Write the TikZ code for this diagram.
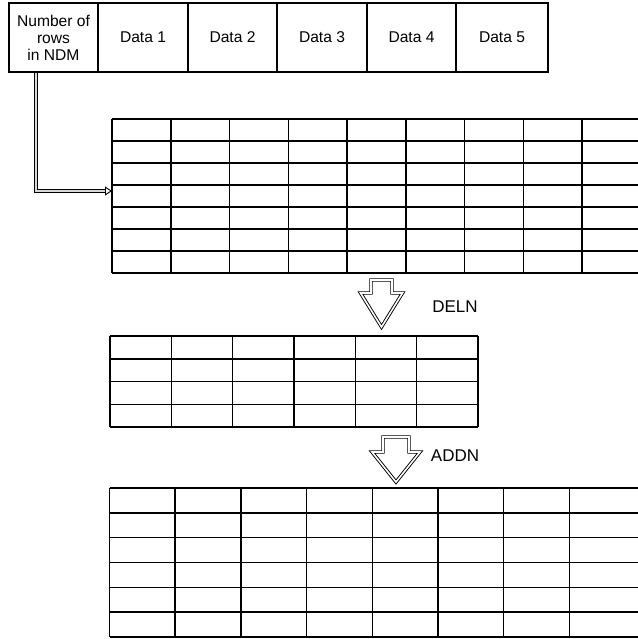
\documentclass[tikz,border=0pt]{standalone}
\usepackage{fontspec}
\setmainfont{Liberation Sans}
\usetikzlibrary{arrows.meta}
\begin{document}
\begin{tikzpicture}[x=1pt,y=-1pt,
  cell/.style={draw, line width=1.4pt, minimum height=69pt, inner sep=0pt, align=center,
               font=\fontsize{15.6}{17}\selectfont},
  gridline/.style={line width=1.5pt, line cap=square},
  bigarrow/.style={draw, line width=0.9pt, double=white, double distance=1.6pt, line join=miter},
  lbl/.style={font=\fontsize{17}{20}\selectfont, inner sep=0pt},
  dbl/.style={line width=0.9pt, double=black!15, double distance=2pt,
              -{Triangle[open, length=7pt, width=9pt]}}]
\useasboundingbox (0,0) rectangle (637,639);

% top record
\node[cell, minimum width=89pt] (c0) at (53.5,37.5) {Number of\\rows\\in NDM};
\node[cell, minimum width=90pt] (c1) at (143,37.5) {Data 1};
\node[cell, minimum width=89pt] (c2) at (232.5,37.5) {Data 2};
\node[cell, minimum width=90pt] (c3) at (322,37.5) {Data 3};
\node[cell, minimum width=89pt] (c4) at (411.5,37.5) {Data 4};
\node[cell, minimum width=92pt] (c5) at (502,37.5) {Data 5};

% table 1 (7 rows, runs off the right edge)
\foreach \j in {0,...,7} \draw[gridline] (112,{119+22*\j}) -- (640,{119+22*\j});
\foreach \i in {0,...,8} \draw[gridline] ({112+58.75*\i},119) -- ({112+58.75*\i},273);
\coordinate (t1) at (112,191);

% connector
\draw[dbl] ([xshift=-17.5pt]c0.south) |- (t1);

% DELN arrow
\draw[bigarrow, shift={(381.5,280)}] (-10.5,0) -- (10.5,0) -- (10.5,13) -- (21,13) -- (0,47)
      -- (-21,13) -- (-10.5,13) -- cycle;
\node[lbl] (deln) at (455,307) {DELN};

% table 2 (4 rows x 6 columns)
\foreach \j in {0,...,4} \draw[gridline] (110,{336+22.75*\j}) -- (478,{336+22.75*\j});
\foreach \i in {0,...,6} \draw[gridline] ({110+61.33*\i},336) -- ({110+61.33*\i},427);

% ADDN arrow
\draw[bigarrow, shift={(396,437)}] (-13,0) -- (13,0) -- (13,15) -- (24,15) -- (0,45)
      -- (-24,15) -- (-13,15) -- cycle;
\node[lbl] (addn) at (455,456) {ADDN};

% table 3 (6 rows, runs off the right edge)
\foreach \j in {0,...,6} \draw[gridline] (109.5,{488+24.83*\j}) -- (640,{488+24.83*\j});
\foreach \i in {0,...,7} \draw[gridline] ({109.5+65.7*\i},488) -- ({109.5+65.7*\i},637);
\end{tikzpicture}
\end{document}
